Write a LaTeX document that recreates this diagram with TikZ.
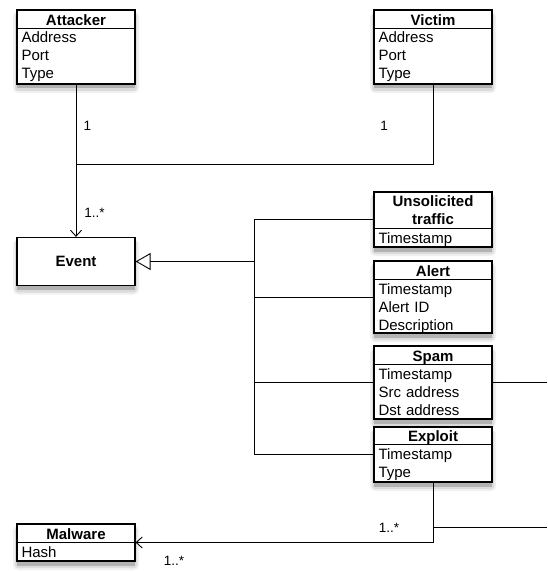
\documentclass[tikz,border=0pt]{standalone}
\usepackage{fontspec}
\setmainfont{Liberation Sans}
\usetikzlibrary{arrows.meta}
\begin{document}
\begin{tikzpicture}[x=1pt,y=-1pt,
  box/.style={draw, line width=1.2pt, fill=white, minimum width=118pt, inner sep=0pt},
  shdA/.style={fill=black!6, rounded corners=5pt},
  shdB/.style={fill=black!14, rounded corners=3pt},
  shdC/.style={fill=black!30},
  hdr/.style={anchor=north, minimum width=118pt, minimum height=19pt, inner sep=0pt,
    font=\fontsize{15}{17.5}\selectfont\bfseries, align=center, text height=12.4pt, text depth=0pt},
  hdrtwo/.style={anchor=north, minimum width=118pt, minimum height=37pt, inner xsep=0pt, inner ysep=0pt,
    font=\fontsize{15}{17.5}\selectfont\bfseries, align=center},
  body/.style={anchor=north west, text width=110pt, inner xsep=4.5pt, inner ysep=0pt,
    font=\fontsize{15}{18}\selectfont, align=left, text height=14pt},
  sep/.style={line width=1.2pt},
  conn/.style={line width=0.9pt},
  barb/.style={-{Straight Barb[length=6pt,width=11pt,line width=0.9pt]}},
  gen/.style={-{Triangle[open,length=15pt,width=17pt,line width=0.9pt]}},
  lbl/.style={font=\fontsize{13.5}{16}\selectfont, inner sep=0pt},
]
\useasboundingbox (0,0) rectangle (547,572);

% Shadows (left, top, right, bottom of each box)
\foreach \l/\t/\r/\b in {17/10/135/84, 374/10/492/84, 17/237.5/135/285.5, 374/192/492/247,
    374/261/492/333, 374/346/492/419, 374/427/492/482, 17/524/135/561}{
  \fill[shdA] (\l-4,\t+2) rectangle (\r+4,\b+9);
  \fill[shdB] (\l-2,\t+3) rectangle (\r+2,\b+7);
  \fill[shdC] (\l,\t+4) rectangle (\r,\b+4.5);
}

% Attacker
\node[box, minimum height=74pt] (att) at (76,47) {};
\node[hdr] (atth) at (att.north) {Attacker};
\draw[sep] (atth.south west) -- (atth.south east);
\node[body] (attb) at (atth.south west) {Address\\Port\\Type};

% Victim
\node[box, minimum height=74pt] (vic) at (433,47) {};
\node[hdr] (vich) at (vic.north) {Victim};
\draw[sep] (vich.south west) -- (vich.south east);
\node[body] (vicb) at (vich.south west) {Address\\Port\\Type};

% Event
\node[box, minimum height=48pt, font=\fontsize{15}{18}\selectfont\bfseries] (ev) at (76,261.5) {Event};

% Unsolicited traffic
\node[box, minimum height=55pt] (uns) at (433,219.5) {};
\node[hdrtwo] (unsh) at (uns.north) {Unsolicited\\traffic};
\draw[sep] (unsh.south west) -- (unsh.south east);
\node[body] (unsb) at (unsh.south west) {Timestamp};

% Alert
\node[box, minimum height=72pt] (alert) at (433,297) {};
\node[hdr] (alerth) at (alert.north) {Alert};
\draw[sep] (alerth.south west) -- (alerth.south east);
\node[body] (alertb) at (alerth.south west) {Timestamp\\Alert ID\\Description};

% Spam
\node[box, minimum height=73pt] (spam) at (433,382.5) {};
\node[hdr] (spamh) at (spam.north) {Spam};
\draw[sep] (spamh.south west) -- (spamh.south east);
\node[body] (spamb) at (spamh.south west) {Timestamp\\Src address\\Dst address};

% Exploit
\node[box, minimum height=55pt] (expl) at (433,454.5) {};
\node[hdr, minimum height=18pt] (explh) at (expl.north) {Exploit};
\draw[sep] (explh.south west) -- (explh.south east);
\node[body] (explb) at (explh.south west) {Timestamp\\Type};

% Malware
\node[box, minimum height=37pt] (mal) at (76,542.5) {};
\node[hdr] (malh) at (mal.north) {Malware};
\draw[sep] (malh.south west) -- (malh.south east);
\node[body] (malb) at (malh.south west) {Hash};

% Associations attacker/victim -> event
\coordinate (j1) at (76,164);
\draw[conn, barb] (att) -- (ev);
\draw[conn] (vic) |- (j1);
\node[lbl] (l1) at (87.5,125.5) {1};
\node[lbl] (l2) at (384,125.5) {1};
\node[lbl] (l3) at (94.5,213) {1..*};

% Generalization
\coordinate (bus) at (254,261.5);
\draw[conn, gen] (bus) -- (ev);
\draw[conn] (uns) -| (bus);
\draw[conn] (alert) -| (bus);
\draw[conn] (spam) -| (bus);
\draw[conn] (expl) -| (bus);

% Spam right
\coordinate (sr) at (547,382.5);
\draw[conn] (spam) -- (sr);

% Exploit -> Malware
\draw[conn, barb] (expl) |- (mal);
\coordinate (ej) at (433,527);
\coordinate (er) at (547,527);
\draw[conn] (ej) -- (er);
\node[lbl] (l4) at (389,528) {1..*};
\node[lbl] (l5) at (174,561) {1..*};
\end{tikzpicture}
\end{document}
